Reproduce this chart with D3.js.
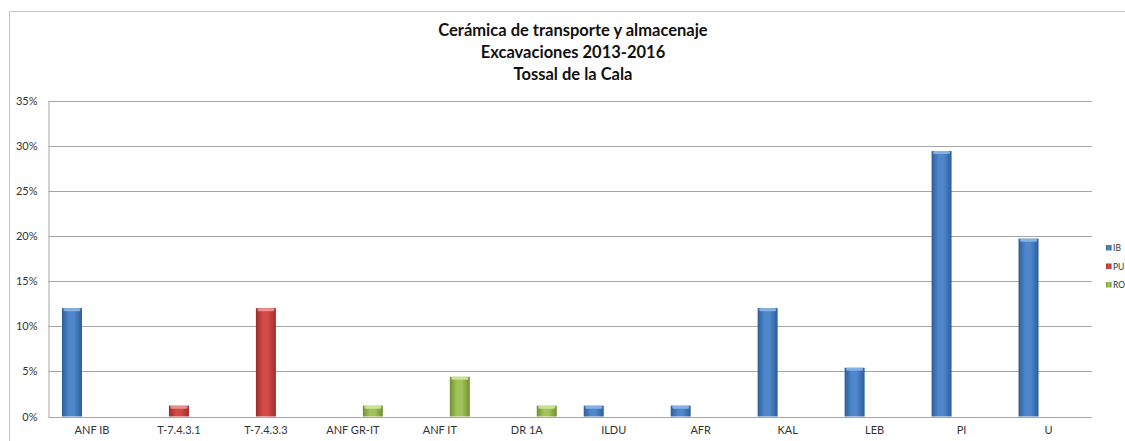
<!DOCTYPE html>
<html>
<head>
<meta charset="utf-8">
<script src="https://cdn.jsdelivr.net/npm/d3@7/dist/d3.min.js"></script>
<style>
  html, body { margin: 0; padding: 0; background: #fff; }
  svg { display: block; }
  text { font-family: Lato, "Liberation Sans", Arial, sans-serif; fill: #333; }
</style>
</head>
<body>
<svg id="chart" width="1125" height="441"></svg>
<script>
// Transport and storage ceramics, share of fragments per type
const categories = ["ANF IB", "T-7.4.3.1", "T-7.4.3.3", "ANF GR-IT", "ANF IT", "DR 1A", "ILDU", "AFR", "KAL", "LEB", "PI", "U"];
const seriesNames = ["IB", "PU", "RO"];
const ibValues = [12.0, 0, 0, 0, 0, 0, 1.2, 1.2, 12.0, 5.4, 29.4, 19.7];
const puValues = [0, 1.2, 12.0, 0, 0, 0, 0, 0, 0, 0, 0, 0];
const roValues = [0, 0, 0, 1.2, 4.4, 1.2, 0, 0, 0, 0, 0, 0];
const yTicks = [0, 5, 10, 15, 20, 25, 30, 35];
const titleLines = ["Cerámica de transporte y almacenaje", "Excavaciones 2013-2016", "Tossal de la Cala"];

const seriesColors = {
  IB: { mid: "#4f87cc", edge: "#2d5d98", cap: "#8db6e6" },
  PU: { mid: "#d44a47", edge: "#9c2c2a", cap: "#ec9795" },
  RO: { mid: "#a2c35a", edge: "#6f8f32", cap: "#cfe59a" }
};

const values = { IB: ibValues, PU: puValues, RO: roValues };
const rows = categories.map((c, i) => ({
  cat: c,
  items: seriesNames.map(s => ({ series: s, value: values[s][i] }))
}));

const svg = d3.select("#chart");
const plot = { left: 48.5, right: 1092, top: 100.5, bottom: 416.5 };

// chart area frame
svg.append("path")
  .attr("d", "M9.5,441 V11.5 H1125")
  .attr("fill", "none")
  .attr("stroke", "#c4c4c4")
  .attr("stroke-width", 1);

// gradients for the bevelled bars
const defs = svg.append("defs");
seriesNames.forEach(s => {
  const g = defs.append("linearGradient").attr("id", "grad-" + s)
    .attr("x1", "0").attr("x2", "1").attr("y1", "0").attr("y2", "0");
  g.append("stop").attr("offset", "0%").attr("stop-color", seriesColors[s].edge);
  g.append("stop").attr("offset", "35%").attr("stop-color", seriesColors[s].mid);
  g.append("stop").attr("offset", "60%").attr("stop-color", seriesColors[s].mid);
  g.append("stop").attr("offset", "100%").attr("stop-color", seriesColors[s].edge);
});

const x0 = d3.scaleBand().domain(categories)
  .range([plot.left, plot.right]).paddingInner(0.31).paddingOuter(0.155);
const x1 = d3.scaleBand().domain(seriesNames).range([0, x0.bandwidth()]);
const y = d3.scaleLinear().domain([0, 35]).range([plot.bottom, plot.top]);

// gridlines
svg.append("g").selectAll("line").data(yTicks).join("line")
  .attr("x1", plot.left).attr("x2", plot.right)
  .attr("y1", d => Math.round(y(d)) + 0.5).attr("y2", d => Math.round(y(d)) + 0.5)
  .attr("stroke", "#a6a6a6").attr("stroke-width", 1);

// y axis
const yAxis = svg.append("g")
  .attr("transform", `translate(${plot.left},0)`)
  .call(d3.axisLeft(y).tickValues(yTicks).tickSize(0).tickPadding(11).tickFormat(d => d + "%"));
yAxis.select(".domain").attr("stroke", "#a6a6a6");
yAxis.selectAll("text").style("font-size", "11px").style("fill", "#333")
  .style("font-family", "Lato, 'Liberation Sans', Arial, sans-serif");

// x axis
const xAxis = svg.append("g")
  .attr("transform", `translate(0,${plot.bottom})`)
  .call(d3.axisBottom(x0).tickSize(0).tickPadding(10));
xAxis.select(".domain").remove();
xAxis.selectAll("text").style("font-size", "11px").style("fill", "#333")
  .style("font-family", "Lato, 'Liberation Sans', Arial, sans-serif");

// bars
const groups = svg.append("g").selectAll("g").data(rows).join("g")
  .attr("transform", d => `translate(${x0(d.cat)},0)`);
const bars = groups.selectAll("g").data(d => d.items.filter(it => it.value > 0)).join("g");
bars.append("rect")
  .attr("x", d => x1(d.series))
  .attr("y", d => y(d.value))
  .attr("width", x1.bandwidth())
  .attr("height", d => y(0) - y(d.value))
  .attr("fill", d => `url(#grad-${d.series})`);
bars.append("rect")
  .attr("x", d => x1(d.series) + 1.5)
  .attr("y", d => y(d.value))
  .attr("width", x1.bandwidth() - 3)
  .attr("height", 3)
  .attr("rx", 1.5)
  .attr("fill", d => seriesColors[d.series].cap)
  .attr("opacity", 0.9);

// title
svg.append("g").selectAll("text").data(titleLines).join("text")
  .attr("x", 573).attr("y", (d, i) => 36 + i * 22)
  .attr("text-anchor", "middle")
  .style("font-size", "16.5px").style("font-weight", "bold").style("fill", "#111")
  .text(d => d);

// legend
const legend = svg.append("g").selectAll("g").data(seriesNames).join("g")
  .attr("transform", (d, i) => `translate(1106,${248 + i * 18.5})`);
legend.append("rect")
  .attr("x", 0).attr("y", -3).attr("width", 5.5).attr("height", 5.5)
  .attr("fill", d => `url(#grad-${d})`);
legend.append("text")
  .attr("x", 7).attr("y", 3)
  .style("font-size", "8.5px").style("fill", "#333")
  .text(d => d);
</script>
</body>
</html>
